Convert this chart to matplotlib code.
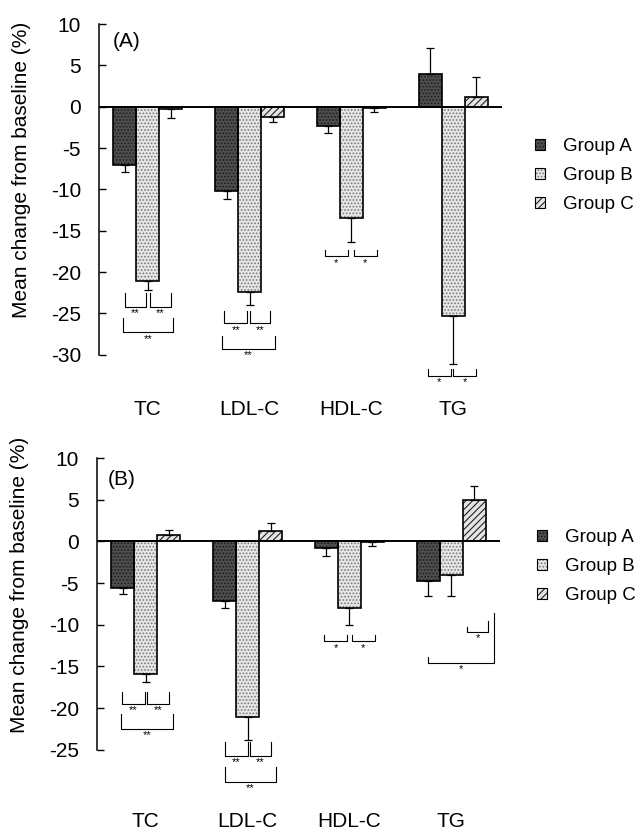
import numpy as np
import matplotlib
matplotlib.use('Agg')
from matplotlib import pyplot as plt
from matplotlib.patches import Patch
from matplotlib.legend_handler import HandlerTuple

plt.rcParams['font.family'] = ['Liberation Sans', 'DejaVu Sans']
plt.rcParams['hatch.linewidth'] = 0.8
plt.rcParams['axes.unicode_minus'] = False

categories = ['TC', 'LDL-C', 'HDL-C', 'TG']
groups = ['Group A', 'Group B', 'Group C']

# Panel A: mean % change from baseline and error per group
a_means_A = [-7.0, -10.2, -2.3, 4.0]
a_means_B = [-21.1, -22.4, -13.4, -25.3]
a_means_C = [-0.3, -1.2, -0.1, 1.2]
a_errs_A = [0.9, 1.0, 0.9, 3.1]
a_errs_B = [1.1, 1.6, 3.0, 5.8]
a_errs_C = [1.1, 0.7, 0.5, 2.4]

# Panel B
b_means_A = [-5.6, -7.2, -0.8, -4.7]
b_means_B = [-15.9, -21.0, -8.0, -4.0]
b_means_C = [0.8, 1.3, -0.1, 5.0]
b_errs_A = [0.7, 0.8, 1.0, 1.9]
b_errs_B = [1.0, 2.8, 2.0, 2.6]
b_errs_C = [0.6, 0.9, 0.5, 1.7]

# significance brackets: (category, left, right, y left top, y right top, y base, label)
# left/right are in bar widths from the category centre
a_brackets = [
    (0, -1.0, -0.1, -22.5, -22.5, -24.2, '**'),
    (0, 0.1, 1.0, -22.5, -22.5, -24.2, '**'),
    (0, -1.1, 1.1, -25.6, -25.6, -27.3, '**'),
    (1, -1.1, -0.1, -24.7, -24.7, -26.2, '**'),
    (1, 0.0, 0.9, -24.7, -24.7, -26.2, '**'),
    (1, -1.2, 1.1, -27.7, -27.7, -29.3, '**'),
    (2, -1.15, -0.15, -17.3, -17.3, -18.1, '*'),
    (2, 0.1, 1.1, -17.3, -17.3, -18.1, '*'),
    (3, -1.1, -0.1, -31.7, -31.7, -32.6, '*'),
    (3, 0.0, 1.0, -31.7, -31.7, -32.6, '*'),
]
b_brackets = [
    (0, -1.05, -0.05, -18.1, -18.1, -19.5, '**'),
    (0, 0.05, 1.0, -18.1, -18.1, -19.5, '**'),
    (0, -1.1, 1.2, -20.7, -20.7, -22.5, '**'),
    (1, -1.0, 0.0, -24.0, -24.0, -25.7, '**'),
    (1, 0.1, 1.0, -24.0, -24.0, -25.7, '**'),
    (1, -1.0, 1.25, -27.1, -27.1, -28.8, '**'),
    (2, -1.1, -0.1, -11.2, -11.2, -12.0, '*'),
    (2, 0.1, 1.1, -11.2, -11.2, -12.0, '*'),
    (3, 0.7, 1.6, -10.3, -9.6, -10.9, '*'),
    (3, -1.0, 1.87, -13.9, -8.6, -14.6, '*'),
]

FILLS = [('#4e4e4e', '.....', '#1e1e1e'),
         ('#e6e6e6', '.....', '#7a7a7a'),
         ('#e4e4e4', '/////', '#222222')]
BAR_W = 0.226
FS = 15


def draw_bars(ax, x, heights, errs, style):
    face, hatch, hcol = style
    ax.bar(x, heights, BAR_W, color=face, hatch=hatch, edgecolor=hcol, linewidth=0, zorder=2)
    ax.bar(x, heights, BAR_W, fill=False, edgecolor='black', linewidth=1.2, zorder=3)
    heights = np.array(heights)
    errs = np.array(errs)
    lower = np.where(heights < 0, errs, 0)
    upper = np.where(heights >= 0, errs, 0)
    ax.errorbar(x, heights, yerr=[lower, upper], fmt='none', ecolor='black',
                elinewidth=0.9, capsize=3, capthick=0.9, zorder=4)


def draw_panel(ax, means, errs, brackets, tag, spine_low, label_y, tag_pos, ylab_y):
    x = np.arange(len(categories))
    for i in range(3):
        draw_bars(ax, x + (i - 1) * BAR_W, means[i], errs[i], FILLS[i])
    ax.axhline(0, color='black', linewidth=1.4, zorder=5)

    for cat, l, r, yl, yr, yb, txt in brackets:
        x0 = cat + l * BAR_W
        x1 = cat + r * BAR_W
        ax.plot([x0, x0, x1, x1], [yl, yb, yb, yr], color='black', linewidth=0.8, zorder=4)
        ax.text((x0 + x1) / 2, yb - 0.15, txt, ha='center', va='top', fontsize=8)

    for i, c in enumerate(categories):
        ax.text(i, label_y, c, ha='center', va='center', fontsize=FS)

    ax.set_xlim(-0.48, 3.48)
    for s in ['top', 'right', 'bottom']:
        ax.spines[s].set_visible(False)
    ax.spines['left'].set_bounds(spine_low, 10)
    ax.spines['left'].set_linewidth(1.1)
    ax.set_yticks(np.arange(spine_low, 11, 5))
    ax.set_xticks([])
    ax.tick_params(axis='y', direction='in', length=5, width=1, pad=13, labelsize=FS)
    ax.set_ylabel('Mean change from baseline (%)', fontsize=FS)
    ax.yaxis.set_label_coords(-0.169, ylab_y)
    ax.text(tag_pos[0], tag_pos[1], tag, transform=ax.transAxes, ha='left', va='center', fontsize=FS)

    handles = []
    for face, hatch, hcol in FILLS:
        handles.append((Patch(facecolor=face, hatch=hatch, edgecolor=hcol, linewidth=0),
                        Patch(fill=False, edgecolor='black', linewidth=0.8)))
    return handles


fig = plt.figure(figsize=(6.39, 8.30), dpi=100)

ax1 = fig.add_axes([99 / 639, 1 - 412.7 / 830, 403 / 639, 388.7 / 830])
ax1.set_ylim(-37, 10)
h = draw_panel(ax1, [a_means_A, a_means_B, a_means_C], [a_errs_A, a_errs_B, a_errs_C],
               a_brackets, '(A)', -30, -36.6, (0.035, 0.954), 0.624)
ax1.legend(h, groups, handler_map={tuple: HandlerTuple(ndivide=1)}, loc='upper left',
           bbox_to_anchor=(535 / 639, 1 - 138 / 830), bbox_transform=fig.transFigure,
           frameon=False, borderpad=0, borderaxespad=0, handlelength=0.55, handleheight=0.55,
           handletextpad=0.95, labelspacing=0.65, fontsize=13.5)

ax2 = fig.add_axes([97 / 639, 1 - 829.1 / 830, 403 / 639, 371.1 / 830])
ax2.set_ylim(-34.5, 10)
h = draw_panel(ax2, [b_means_A, b_means_B, b_means_C], [b_errs_A, b_errs_B, b_errs_C],
               b_brackets, '(B)', -25, -33.6, (0.027, 0.941), 0.657)
ax2.legend(h, groups, handler_map={tuple: HandlerTuple(ndivide=1)}, loc='upper left',
           bbox_to_anchor=(537 / 639, 1 - 529 / 830), bbox_transform=fig.transFigure,
           frameon=False, borderpad=0, borderaxespad=0, handlelength=0.55, handleheight=0.55,
           handletextpad=0.95, labelspacing=0.65, fontsize=13.5)

fig.savefig('out.png', dpi=100)
